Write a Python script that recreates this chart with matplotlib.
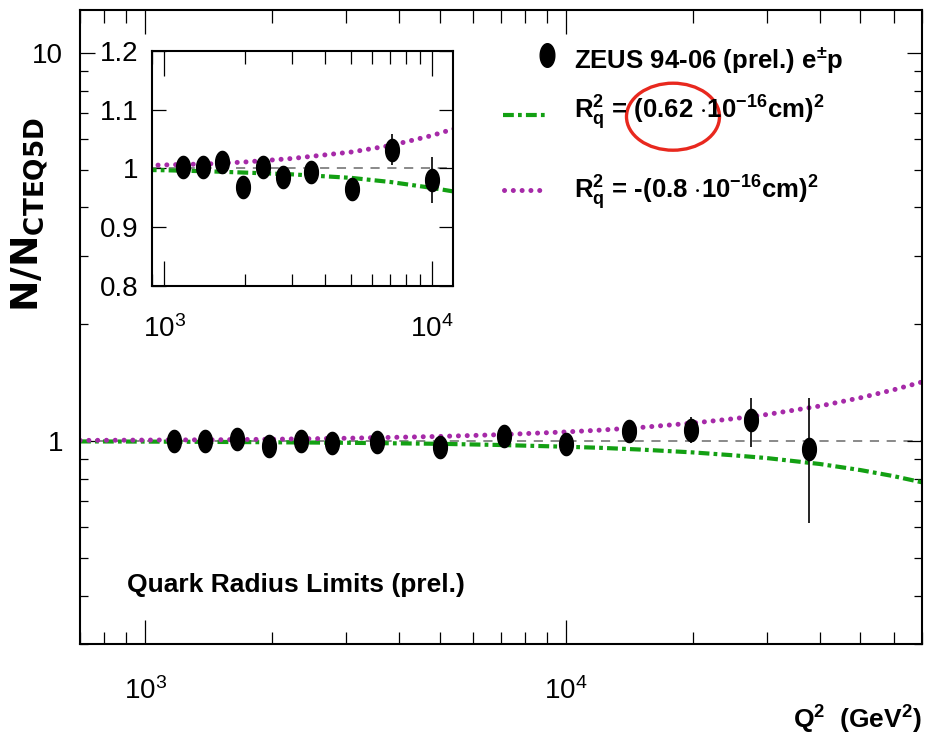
import numpy as np
import matplotlib
matplotlib.use('Agg')
import matplotlib.pyplot as plt
from matplotlib.path import Path
from matplotlib.patches import Ellipse
from matplotlib.lines import Line2D
from matplotlib.ticker import FixedLocator, NullFormatter, LogFormatterMathtext, LogLocator

plt.rcParams['font.family'] = ['Liberation Sans', 'DejaVu Sans']
plt.rcParams['mathtext.fontset'] = 'custom'
plt.rcParams['mathtext.rm'] = 'Liberation Sans:bold'
plt.rcParams['mathtext.it'] = 'Liberation Sans:bold'
plt.rcParams['mathtext.bf'] = 'Liberation Sans:bold'

GREEN = '#13a013'
MAGENTA = '#a62aa8'

# ZEUS data points
q2 = [1170, 1390, 1650, 1970, 2340, 2770, 3550, 5010, 7110, 10000, 14100, 19800, 27500, 37800]
ratio = [1.003, 1.003, 1.011, 0.969, 1.003, 0.986, 0.994, 0.965, 1.032, 0.981, 1.061, 1.071, 1.130, 0.955]
ratio_err = [0.006, 0.006, 0.007, 0.008, 0.009, 0.009, 0.010, 0.012, 0.026, 0.039, 0.040, 0.080, 0.165, 0.340]

# limit curves
q2_curve = [700, 1000, 1500, 2000, 3000, 5000, 7000, 10000, 12000, 15000, 20000,
            25000, 30000, 40000, 50000, 60000, 70000]
r_pos = [0.998, 0.997, 0.995, 0.993, 0.990, 0.984, 0.977, 0.967, 0.961, 0.951, 0.935,
         0.919, 0.904, 0.873, 0.842, 0.812, 0.783]
r_neg = [1.004, 1.006, 1.008, 1.011, 1.017, 1.028, 1.039, 1.056, 1.067, 1.084, 1.113,
         1.142, 1.171, 1.231, 1.293, 1.356, 1.420]

theta = np.linspace(0, 2 * np.pi, 64)
ELL = Path(np.column_stack([0.62 * np.cos(theta), np.sin(theta)]))


def draw(ax, ms, lw_green, lw_mag):
    ax.axhline(1.0, color='#6a6a6a', lw=1.1, dashes=(6, 5), zorder=1)
    ax.plot(q2_curve, r_pos, color=GREEN, lw=lw_green, dashes=(2.6, 1.0, 0.9, 1.0), zorder=2)
    ax.plot(q2_curve, r_neg, color=MAGENTA, lw=lw_mag, dashes=(0.01, 1.75),
            dash_capstyle='round', zorder=2)
    ax.errorbar(q2, ratio, yerr=ratio_err, fmt='none', ecolor='black', elinewidth=1.2, zorder=3)
    ax.plot(q2, ratio, ls='none', marker=ELL, ms=ms, color='black', zorder=4)


fig = plt.figure(figsize=(9.35, 7.43), dpi=100)

# main panel
ax = fig.add_axes([0.0856, 0.1332, 0.9005, 0.8533])
ax.set_xscale('log')
ax.set_yscale('log')
draw(ax, 16, 3.0, 3.6)
ax.set_xlim(700, 70000)
ax.set_ylim(0.3, 12.9)
ax.xaxis.set_major_locator(FixedLocator([1e3, 1e4]))
ax.xaxis.set_major_formatter(LogFormatterMathtext())
ax.xaxis.set_minor_locator(LogLocator(subs=np.arange(2, 10)))
ax.xaxis.set_minor_formatter(NullFormatter())
ax.yaxis.set_major_locator(FixedLocator([1, 10]))
ax.set_yticklabels(['1', '10'])
ax.yaxis.set_minor_locator(FixedLocator([0.3, 0.4, 0.5, 0.6, 0.7, 0.8, 0.9, 2, 3, 4, 5, 6, 7, 8, 9]))
ax.yaxis.set_minor_formatter(NullFormatter())
ax.tick_params(which='both', direction='in', top=True, right=True, width=0.9, labelsize=20)
ax.tick_params(axis='x', which='major', length=17, pad=24)
ax.tick_params(axis='x', which='minor', length=9)
ax.tick_params(axis='y', which='major', length=11, pad=12)
ax.tick_params(axis='y', which='minor', length=5.5)
for s in ax.spines.values():
    s.set_linewidth(1.5)

ax.set_ylabel(r'N/N$_{\mathregular{CTEQ5D}}$', fontsize=27, fontweight='bold', family='DejaVu Sans')
ax.yaxis.set_label_coords(-0.036, 0.677)
ax.text(1.0, -0.12, r'Q$^{2}$  (GeV$^{2}$)', transform=ax.transAxes, ha='right', va='center',
        fontsize=19, fontweight='bold')
ax.text(127 / 935, 1 - 592 / 743, 'Quark Radius Limits (prel.)', transform=fig.transFigure,
        ha='left', va='baseline', fontsize=19, fontweight='bold')

# inset
axi = fig.add_axes([0.1626, 0.6151, 0.3219, 0.3163])
axi.set_xscale('log')
draw(axi, 16, 3.0, 3.6)
axi.set_xlim(900, 12000)
axi.set_ylim(0.8, 1.2)
axi.xaxis.set_major_locator(FixedLocator([1e3, 1e4]))
axi.xaxis.set_major_formatter(LogFormatterMathtext())
axi.xaxis.set_minor_locator(LogLocator(subs=np.arange(2, 10)))
axi.xaxis.set_minor_formatter(NullFormatter())
axi.set_yticks([0.8, 0.9, 1.0, 1.1, 1.2])
axi.set_yticklabels(['0.8', '0.9', '1', '1.1', '1.2'])
axi.tick_params(which='both', direction='in', top=True, right=True, width=0.9, labelsize=20)
axi.tick_params(axis='x', which='major', length=18, pad=21)
axi.tick_params(axis='x', which='minor', length=9)
axi.tick_params(axis='y', which='major', length=10, pad=10)
for s in axi.spines.values():
    s.set_linewidth(1.5)

# legend (drawn by hand, ROOT style)
fig.add_artist(Line2D([547 / 935], [1 - 55 / 743], marker=ELL, ms=17, color='black',
                      transform=fig.transFigure))
fig.add_artist(Line2D([503 / 935, 547 / 935], [1 - 115 / 743] * 2, color=GREEN, lw=3.0,
                      dashes=(2.6, 1.0, 0.9, 1.0), transform=fig.transFigure))
fig.add_artist(Line2D([504 / 935, 546 / 935], [1 - 190 / 743] * 2, color=MAGENTA, lw=3.6,
                      dashes=(0.01, 1.75), dash_capstyle='round', transform=fig.transFigure))
fig.text(574 / 935, 1 - 68 / 743, r'ZEUS 94-06 (prel.) e$^{\pm}$p', fontsize=18.5, fontweight='bold',
         va='baseline')
fig.text(574 / 935, 1 - 119 / 743, r'R$_{q}^{2}$ = (0.62 $\cdot$10$^{-16}$cm)$^{2}$', fontsize=18.5,
         fontweight='bold', va='baseline')
fig.text(574 / 935, 1 - 199 / 743, r'R$_{q}^{2}$ = -(0.8 $\cdot$10$^{-16}$cm)$^{2}$', fontsize=18.5,
         fontweight='bold', va='baseline')
fig.add_artist(Ellipse((673 / 935, 1 - 116.7 / 743), 93 / 935, 67 / 743, fill=False,
                       edgecolor='#e8281e', lw=2.4, transform=fig.transFigure))

fig.savefig('out.png', dpi=100, facecolor='white')
